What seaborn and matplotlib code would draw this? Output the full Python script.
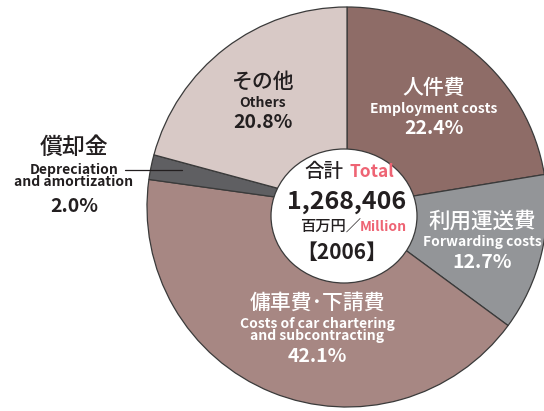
import matplotlib
matplotlib.use("Agg")
import matplotlib.pyplot as plt
import seaborn as sns
from matplotlib.patches import Ellipse

# data
labels_jp = ["人件費", "利用運送費", "傭車費･下請費", "償却金", "その他"]
labels_en = ["Employment costs", "Forwarding costs",
             "Costs of car chartering\nand subcontracting",
             "Depreciation\nand amortization", "Others"]
shares = [22.4, 12.7, 42.1, 2.0, 20.8]
colors = ["#8e6c67", "#939598", "#a78783", "#5f5f62", "#d8c9c6"]
total = "1,268,406"
year = "2006"

sns.set_theme(style="white")
plt.rcParams['font.family'] = ['Noto Sans CJK JP', 'DejaVu Sans']

W, H = 544, 411
fig = plt.figure(figsize=(W / 100, H / 100), dpi=100)
ax = fig.add_axes([0, 0, 1, 1])

# pie, in pixel units (y measured upward)
cx, cy, r = 347, H - 207, 200
ax.pie(shares, colors=colors, startangle=90, counterclock=False,
       center=(cx, cy), radius=r,
       wedgeprops=dict(edgecolor="#3a3a3a", linewidth=0.9))
ax.add_patch(Ellipse((344, H - 216), 146, 134, facecolor="white",
                     edgecolor="#3a3a3a", linewidth=0.9, zorder=5))
ax.set_xlim(0, W)
ax.set_ylim(0, H)
ax.set_aspect("equal")
ax.axis("off")


def txt(x, y, s, size, color="#231f20", weight="bold", ha="center", **kw):
    ax.text(x, H - y, s, fontsize=size, color=color, fontweight=weight,
            ha=ha, va="center", zorder=6, **kw)


pink = "#ee6474"
dark = "#231f20"

# slice labels: (x, y of jp line, y of en line, y of pct line, color, jp size)
pos = [
    (434, 88, 109, 129, "white", 15),
    (482, 222, 242, 262, "white", 15.5),
    (317, 303, 330, 356, "white", 15),
    (74, 147, 176, 207, dark, 16.5),
    (263, 82, 103, 123, dark, 15),
]
for jp, en, v, (x, y1, y2, y3, c, fs) in zip(labels_jp, labels_en, shares, pos):
    txt(x, y1, jp, fs, c, weight="medium")
    txt(x, y2, en, 10, c, linespacing=0.85)
    txt(x, y3, f"{v:.1f}%", 14, c)

# leader line for depreciation
ax.plot([125, 182], [H - 170, H - 170], color=dark, lw=0.9, zorder=6)

# center text
txt(343, 172, "合計", 14, dark, weight="medium", ha="right")
txt(350, 172, "Total", 12.5, pink, ha="left")
txt(347, 202, total, 18, dark)
txt(361, 227, "百万円／", 11, dark, weight="medium", ha="right")
txt(360, 227, "Million", 10, pink, ha="left")
txt(342, 252, f"【{year}】", 15, dark)

fig.savefig("out.png", dpi=100)
